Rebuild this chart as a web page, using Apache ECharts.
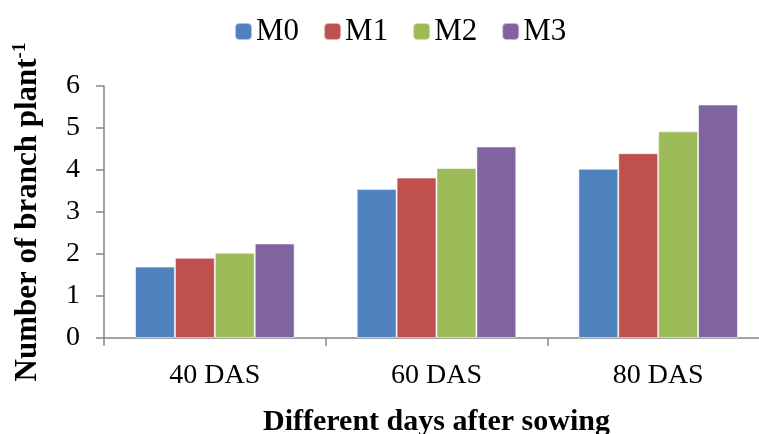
<!DOCTYPE html>
<html>
<head>
<meta charset="utf-8">
<script src="https://cdn.jsdelivr.net/npm/echarts@6/dist/echarts.min.js"></script>
<style>
  html, body { margin: 0; padding: 0; background: #fff; }
  #chart { width: 759px; height: 434px; }
</style>
</head>
<body>
<div id="chart"></div>
<script>
// Branch counts per plant at three sampling dates
const categories = ['40 DAS', '60 DAS', '80 DAS'];
const seriesNames = ['M0', 'M1', 'M2', 'M3'];
const m0 = [1.70, 3.55, 4.03];
const m1 = [1.91, 3.82, 4.40];
const m2 = [2.03, 4.05, 4.92];
const m3 = [2.25, 4.56, 5.56];
const yTicks = [0, 1, 2, 3, 4, 5, 6];
const colors = ['#4F81BD', '#C0504D', '#9BBB59', '#8064A2'];

const values = [m0, m1, m2, m3];
const font = 'Liberation Serif, Times New Roman, serif';
const axisGray = '#868686';

const chart = echarts.init(document.getElementById('chart'));
chart.setOption({
  animation: false,
  textStyle: { fontFamily: font, color: '#000' },
  legend: {
    top: 11,
    left: 229,
    itemWidth: 17,
    itemHeight: 17,
    itemGap: 24,
    textStyle: { fontFamily: font, fontSize: 31, color: '#000', padding: [0, 0, 0, -1] },
    data: seriesNames
  },
  grid: { left: 104, right: -10, top: 86, bottom: 96, containLabel: false, outerBoundsMode: 'none' },
  xAxis: {
    type: 'category',
    data: categories,
    name: 'Different days after sowing',
    nameLocation: 'middle',
    nameGap: 69,
    nameTextStyle: { fontFamily: font, fontSize: 30, fontWeight: 'bold', color: '#000' },
    axisLine: { lineStyle: { color: axisGray, width: 1.5 } },
    axisTick: { show: true, length: 8, lineStyle: { color: axisGray, width: 1.5 } },
    axisLabel: { fontFamily: font, fontSize: 28, color: '#000', margin: 24 }
  },
  yAxis: {
    type: 'value',
    min: yTicks[0],
    max: yTicks[yTicks.length - 1],
    interval: 1,
    name: '{a|Number of branch plant}{b|-1}',
    nameLocation: 'middle',
    nameRotate: 90,
    nameGap: 60,
    nameTextStyle: {
      rich: {
        a: { fontFamily: font, fontSize: 31, fontWeight: 'bold', color: '#000' },
        b: { fontFamily: font, fontSize: 19, fontWeight: 'bold', color: '#000', verticalAlign: 'top', padding: [0, 0, 14, 0] }
      }
    },
    splitLine: { show: false },
    axisLine: { show: true, lineStyle: { color: axisGray, width: 1.5 } },
    axisTick: { show: true, length: 8, lineStyle: { color: axisGray, width: 1.5 } },
    axisLabel: { fontFamily: font, fontSize: 28, color: '#000', margin: 24 }
  },
  series: seriesNames.map((name, i) => ({
    name: name,
    type: 'bar',
    data: values[i],
    barGap: '0%',
    barCategoryGap: '28%',
    itemStyle: { color: colors[i], borderColor: 'rgba(255,255,255,0.55)', borderWidth: 1 }
  }))
});
</script>
</body>
</html>
